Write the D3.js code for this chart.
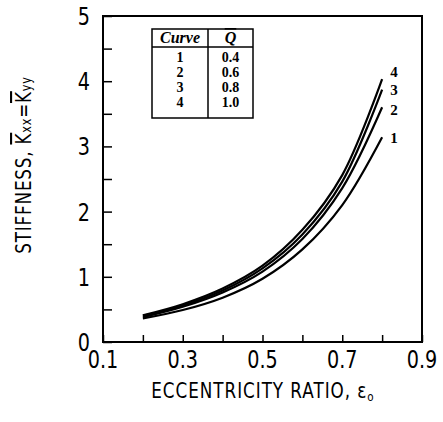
<!DOCTYPE html>
<html><head><meta charset="utf-8">
<script src="https://cdn.jsdelivr.net/npm/d3@7"></script>
<style>body{margin:0;background:#fff}svg{display:block}</style>
</head><body>
<svg id="c" width="443" height="422"></svg>
<script>
const ecc = [0.2, 0.3, 0.4, 0.5, 0.6, 0.7, 0.8];
const curve1 = [0.36, 0.49, 0.68, 0.97, 1.42, 2.10, 3.14];
const curve2 = [0.38, 0.54, 0.76, 1.08, 1.58, 2.36, 3.60];
const curve3 = [0.40, 0.56, 0.79, 1.13, 1.65, 2.46, 3.87];
const curve4 = [0.41, 0.58, 0.82, 1.17, 1.72, 2.56, 4.03];
const curveNames = ["1", "2", "3", "4"];
const qValues = ["0.4", "0.6", "0.8", "1.0"];
const xTicks = [0.1, 0.3, 0.5, 0.7, 0.9];
const yTicks = [0, 1, 2, 3, 4, 5];

const series = [curve1, curve2, curve3, curve4];
const svg = d3.select("#c");
const sans = "'DejaVu Sans',sans-serif";
const serif = "'Liberation Serif','DejaVu Serif',serif";
const SX = 0.8; // narrow the sans text horizontally

const x = d3.scaleLinear().domain([0.1, 0.9]).range([103, 422]);
const y = d3.scaleLinear().domain([0, 5]).range([342, 16]);

function narrowText(sel, px, py, rot) {
  return sel.append("text")
    .attr("transform", `translate(${px},${py})${rot ? " rotate(" + rot + ")" : ""} scale(${SX},1)`)
    .attr("font-family", sans);
}

// frame
svg.append("rect").attr("x", x(0.1)).attr("y", y(5))
  .attr("width", x(0.9) - x(0.1)).attr("height", y(0) - y(5))
  .attr("fill", "none").attr("stroke", "#000").attr("stroke-width", 2);

// inward ticks
const xAxis = d3.axisBottom(x).tickValues(d3.range(0.1, 0.95, 0.1)).tickSizeInner(-7).tickSizeOuter(0).tickFormat("");
const gx = svg.append("g").attr("transform", `translate(0,${y(0)})`).call(xAxis);
gx.select(".domain").remove();
gx.selectAll("line").attr("stroke-width", 1.5);
const yAxis = d3.axisLeft(y).tickValues(d3.range(0, 5.01, 0.5)).tickSizeInner(-9).tickSizeOuter(0).tickFormat("");
const gy = svg.append("g").attr("transform", `translate(${x(0.1)},0)`).call(yAxis);
gy.select(".domain").remove();
gy.selectAll("line").attr("stroke-width", 1.5);

// tick labels
xTicks.forEach(d => {
  narrowText(svg, x(d), 368).attr("text-anchor", "middle").attr("font-size", 24).text(d.toFixed(1));
});
yTicks.forEach(d => {
  narrowText(svg, 90, y(d) + 9).attr("text-anchor", "end").attr("font-size", 24).text(d);
});

// axis titles
const xt = narrowText(svg, 263, 398).attr("text-anchor", "middle").attr("font-size", 21)
  .attr("letter-spacing", 1.2);
xt.append("tspan").text("ECCENTRICITY  RATIO,  ε");
xt.append("tspan").attr("font-size", 13).attr("dy", 3).text("o");

const yt = narrowText(svg, 31, 165, -90).attr("text-anchor", "middle").attr("font-size", 21)
  .attr("letter-spacing", 1);
yt.append("tspan").text("STIFFNESS,  ");
yt.append("tspan").attr("text-decoration", "overline").text("K");
yt.append("tspan").attr("font-size", 14).text("xx");
yt.append("tspan").text("=");
yt.append("tspan").attr("text-decoration", "overline").text("K");
yt.append("tspan").attr("font-size", 14).text("yy");

// curves
const line = d3.line().x((d, i) => x(ecc[i])).y(d => y(d)).curve(d3.curveCatmullRom.alpha(0.5));
svg.selectAll(".curve").data(series).enter().append("path")
  .attr("d", d => line(d)).attr("fill", "none").attr("stroke", "#000").attr("stroke-width", 2.2);

// curve labels
const labelDy = [6, 8, 5, -2];
svg.selectAll(".cl").data(series).enter().append("text")
  .attr("x", x(0.8) + 8).attr("y", (d, i) => y(d[d.length - 1]) + labelDy[i])
  .attr("font-family", serif).attr("font-weight", "bold").attr("font-size", 15)
  .text((d, i) => curveNames[i]);

// legend table
const L = {x0: 152, x1: 253, xm: 208, y0: 29, yh: 47, y1: 118};
const lg = svg.append("g");
lg.append("rect").attr("x", L.x0).attr("y", L.y0).attr("width", L.x1 - L.x0).attr("height", L.y1 - L.y0)
  .attr("fill", "#fff").attr("stroke", "#000").attr("stroke-width", 1.5);
lg.append("line").attr("x1", L.x0).attr("x2", L.x1).attr("y1", L.yh).attr("y2", L.yh).attr("stroke", "#000").attr("stroke-width", 1.5);
lg.append("line").attr("x1", L.xm).attr("x2", L.xm).attr("y1", L.y0).attr("y2", L.y1).attr("stroke", "#000").attr("stroke-width", 1.5);
lg.append("text").attr("x", (L.x0 + L.xm) / 2).attr("y", 43).attr("text-anchor", "middle")
  .attr("font-family", serif).attr("font-weight", "bold").attr("font-style", "italic").attr("font-size", 16).text("Curve");
lg.append("text").attr("x", (L.xm + L.x1) / 2).attr("y", 43).attr("text-anchor", "middle")
  .attr("font-family", serif).attr("font-weight", "bold").attr("font-style", "italic").attr("font-size", 16)
  .attr("text-decoration", "overline").text("Q");
lg.selectAll(".r1").data(curveNames).enter().append("text")
  .attr("x", (L.x0 + L.xm) / 2).attr("y", (d, i) => 62 + i * 15).attr("text-anchor", "middle")
  .attr("font-family", serif).attr("font-weight", "bold").attr("font-size", 14).text(d => d);
lg.selectAll(".r2").data(qValues).enter().append("text")
  .attr("x", (L.xm + L.x1) / 2).attr("y", (d, i) => 62 + i * 15).attr("text-anchor", "middle")
  .attr("font-family", serif).attr("font-weight", "bold").attr("font-size", 14).text(d => d);
</script>
</body></html>
